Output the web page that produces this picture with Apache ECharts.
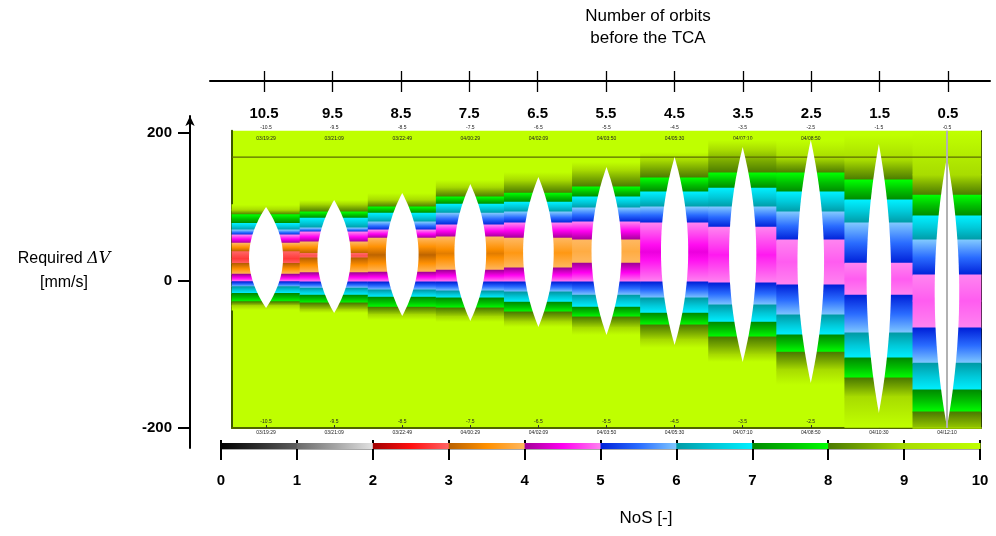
<!DOCTYPE html>
<html>
<head>
<meta charset="utf-8">
<script src="https://cdn.jsdelivr.net/npm/echarts@6/dist/echarts.min.js"></script>
<style>
  html, body { margin: 0; padding: 0; background: #fff; }
  #chart { width: 996px; height: 536px; }
</style>
</head>
<body>
<div id="chart"></div>
<script>
// columns: number of orbits before the TCA
var orbits = [10.5, 9.5, 8.5, 7.5, 6.5, 5.5, 4.5, 3.5, 2.5, 1.5, 0.5];
var passTimes = ['03/19:29', '03/21:09', '03/22:49', '04/00:29', '04/02:09', '04/03:50',
                 '04/05:30', '04/07:10', '04/08:50', '04/10:30', '04/12:10'];
var dvTicks = [-200, 0, 200];
var nosTicks = [0, 1, 2, 3, 4, 5, 6, 7, 8, 9, 10];

// lowest NoS in each column and the required dV where it sits
var minNoS = [2.75, 2.9, 3.05, 3.3, 3.6, 3.85, 4.4, 4.6, 4.85, 4.85, 4.85];
var centreDV = [29.5, 33.6, 34.6, 36.6, 37.3, 39.3, 38.6, 34.6, 25.1, 2, -27.8];

// dV where NoS crosses 10, 9, 8, ... going down towards the minimum
var upperEdges = [
  [102.7, 95.6, 89.2, 77.6, 68.5, 61.7, 50.8, 39.1],
  [109.2, 103.7, 92.9, 84.7, 71.2, 65.8, 52.2, 36.6],
  [118.6, 109.2, 99.7, 91.5, 79.3, 68.5, 57.6],
  [136.3, 126.8, 113.2, 103.7, 91.5, 75.3, 59],
  [147.1, 136.3, 118.6, 106.4, 92.9, 78, 57.6],
  [160.7, 149.8, 126.8, 113.2, 98.3, 79.3, 54.9],
  [174.2, 163.4, 139, 120, 99.7, 78],
  [190.5, 176.9, 145.8, 125.4, 99.7, 72.5],
  [190, 166.1, 145.8, 120, 92.9, 54.9],
  [197.3, 163.4, 136.3, 109.2, 78, 23.7],
  [201.4, 143.1, 115.9, 87.5, 54.9, 7.5]
];
// same crossings below the minimum (10, 9, 8, ... going up)
var lowerEdges = [
  [-40, -34.6, -28.7, -17.4, -8.4, -1.6, 8.5, 23.1],
  [-44.1, -40, -30.5, -19.7, -10.2, -2, 10.8, 30.5],
  [-53.6, -46.8, -36, -22.4, -12.9, -2, 11.5],
  [-56.3, -49.5, -37.3, -23.7, -14.2, -2, 14.2],
  [-63.1, -56.3, -42.7, -29.2, -15.6, -2, 17],
  [-73.9, -64.4, -49.5, -36, -19.7, -2, 23.7],
  [-91.5, -80.7, -60.3, -44.1, -23.7, -2],
  [-110.5, -101, -76.6, -56.3, -33.2, -3.4],
  [-141.7, -121.4, -97, -73.9, -46.8, -6.1],
  [-199, -158, -132.2, -105.1, -71.2, -19.7],
  [-230, -205, -178.3, -148.5, -111.9, -64.4]
];

// white lens in each column
var lensTop = [99.7, 109.2, 118.6, 130.8, 140.3, 153.9, 167.5, 181, 190.5, 185.1, 167.5];
var lensBottom = [-37.3, -44.1, -48.1, -54.9, -63.1, -73.9, -87.5, -110.5, -139, -179.7, -198.6];
var lensHalfWidth = [0.25, 0.245, 0.24, 0.233, 0.225, 0.22, 0.2, 0.2, 0.195, 0.18, 0.18];

var limitDV = 167.4;   // horizontal reference line
var tcaOrbit = 0.5;    // vertical grey line

// NoS colour scale, one colour run per unit step
var nosColours = [
  ['#000000', '#2e2e2e', '#5e5e5e'],
  ['#6a6a6a', '#a4a4a4', '#e2e2e2'],
  ['#a00000', '#ff1010', '#ff6464'],
  ['#b86000', '#ff9000', '#ffb860'],
  ['#a00096', '#ff00f0', '#ff84f0'],
  ['#0020d8', '#2a6cff', '#80c8ff'],
  ['#009aa5', '#00c8d8', '#00f0ff'],
  ['#008a00', '#00c000', '#00ff00'],
  ['#4a7a00', '#78a800', '#a8dc00'],
  ['#a8dc00', '#b4ee00', '#bfff00']
];

var DV_MIN = -200, DV_MAX = 203;

// build the bands of each column from the crossings
var bandData = [];
orbits.forEach(function (orb, i) {
  var up = upperEdges[i], lo = lowerEdges[i], n = up.length;
  var j;
  for (j = 0; j < n - 1; j++) bandData.push([orb, up[j], up[j + 1], 10 - j, 9 - j]);
  var inner = 10 - (n - 1);
  bandData.push([orb, up[n - 1], centreDV[i], inner, minNoS[i]]);
  bandData.push([orb, centreDV[i], lo[n - 1], minNoS[i], inner]);
  for (j = n - 1; j > 0; j--) bandData.push([orb, lo[j], lo[j - 1], 10 - j, 11 - j]);
});

var lensData = orbits.map(function (orb, i) {
  return [orb, lensTop[i], lensBottom[i], lensHalfWidth[i]];
});

function clampDV(v) { return Math.max(DV_MIN, Math.min(DV_MAX, v)); }

function renderBand(params, api) {
  var orb = api.value(0), d0 = api.value(1), d1 = api.value(2);
  var v0 = api.value(3), v1 = api.value(4);
  var g0 = api.coord([orb, d0]), g1 = api.coord([orb, d1]);
  var a = api.coord([orb + 0.5, clampDV(d0)]);
  var b = api.coord([orb - 0.5, clampDV(d1)]);
  var seg = Math.min(9, Math.floor(Math.min(v0, v1) + 1e-9));
  var stops = [];
  for (var t = 0; t <= 4; t++) {
    var v = v0 + (v1 - v0) * t / 4;
    var f = Math.max(0, Math.min(1, v - seg));
    stops.push({ offset: t / 4, color: echarts.color.lerp(f, nosColours[seg]) });
  }
  return {
    type: 'rect',
    shape: {
      x: Math.min(a[0], b[0]) - 0.4,
      y: Math.min(a[1], b[1]) - 0.4,
      width: Math.abs(b[0] - a[0]) + 0.8,
      height: Math.abs(b[1] - a[1]) + 0.8
    },
    style: { fill: new echarts.graphic.LinearGradient(0, g0[1], 0, g1[1], stops, true) }
  };
}

function renderLens(params, api) {
  var orb = api.value(0), top = api.value(1), bot = api.value(2), hw = api.value(3);
  var mid = (top + bot) / 2, half = (top - bot) / 2;
  var right = [], left = [];
  for (var k = 0; k <= 40; k++) {
    var t = -1 + k / 20;
    var dv = mid + t * half, dx = hw * (1 - t * t);
    right.push(api.coord([orb - dx, dv]));
    left.unshift(api.coord([orb + dx, dv]));
  }
  return { type: 'polygon', shape: { points: right.concat(left) }, style: { fill: '#ffffff' } };
}

function renderHLine(params, api) {
  var p0 = api.coord([11, api.value(0)]), p1 = api.coord([0, api.value(0)]);
  return {
    type: 'line',
    shape: { x1: p0[0], y1: p0[1], x2: p1[0], y2: p1[1] },
    style: { stroke: '#5a6c00', lineWidth: 1.3 }
  };
}

function renderScale(params, api) {
  var k = api.value(0);
  var a = api.coord([k, 1]), b = api.coord([k + 1, 0]);
  var c = nosColours[k];
  return {
    type: 'rect',
    shape: { x: a[0], y: a[1], width: b[0] - a[0] + 0.5, height: b[1] - a[1] },
    style: {
      fill: new echarts.graphic.LinearGradient(0, 0, 1, 0, [
        { offset: 0, color: c[0] }, { offset: 0.5, color: c[1] }, { offset: 1, color: c[2] }
      ])
    }
  };
}

var chart = echarts.init(document.getElementById('chart'), null, { renderer: 'canvas' });

var option = {
  backgroundColor: '#ffffff',
  animation: false,
  graphic: [
    {
      type: 'text', x: 648, y: 5,
      style: { text: 'Number of orbits\nbefore the TCA', font: '17px "Liberation Sans"', fill: '#000',
               textAlign: 'center', lineHeight: 22 }
    },
    {
      type: 'text', x: 64, y: 247,
      style: {
        text: 'Required {i|ΔV}\n[mm/s]', font: '16px "Liberation Sans"', fill: '#000',
        textAlign: 'center', lineHeight: 24,
        rich: { i: { fontFamily: 'DejaVu Serif', fontStyle: 'italic', fontSize: 16 } }
      }
    },
    {
      type: 'text', x: 646, y: 510,
      style: { text: 'NoS [-]', font: '17px "Liberation Sans"', fill: '#000', textAlign: 'center' }
    }
  ],
  grid: [
    { left: 232, right: 15, top: 130.8, bottom: 108, show: true, backgroundColor: '#bfff00',
      borderWidth: 0, outerBoundsMode: 'none' },
    { left: 210, right: 6, top: 81, height: 1, outerBoundsMode: 'none' },
    { left: 190, width: 100, top: 116, bottom: 88, outerBoundsMode: 'none' },
    { left: 221, right: 16, top: 443, height: 6, outerBoundsMode: 'none' }
  ],
  xAxis: [
    { gridIndex: 0, type: 'value', min: 0, max: 11, inverse: true, position: 'bottom',
      axisLine: { show: true, onZero: false, lineStyle: { color: '#4f6400', width: 2 } },
      axisTick: { show: true, inside: true, length: 3, customValues: orbits, lineStyle: { color: '#333' } },
      axisLabel: { show: true, customValues: orbits, margin: 2, formatter: function (v) {
        return passTimes[orbits.indexOf(v)]; }, fontSize: 5, color: '#222', fontFamily: 'Liberation Sans' },
      splitLine: { show: false } },
    { gridIndex: 0, type: 'value', min: 0, max: 11, inverse: true, position: 'bottom',
      axisLine: { show: false }, axisTick: { show: false },
      axisLabel: { show: true, inside: true, margin: 4, customValues: orbits,
        formatter: function (v) { return '-' + v; }, fontSize: 5, color: '#222' },
      splitLine: { show: false } },
    { gridIndex: 0, type: 'value', min: 0, max: 11, inverse: true, position: 'top',
      axisLine: { show: false },
      axisTick: { show: true, inside: true, length: 3, customValues: orbits, lineStyle: { color: '#333' } },
      axisLabel: { show: true, margin: 1, customValues: orbits,
        formatter: function (v) { return '-' + v; }, fontSize: 5, color: '#222' },
      splitLine: { show: false } },
    { gridIndex: 0, type: 'value', min: 0, max: 11, inverse: true, position: 'top',
      axisLine: { show: false }, axisTick: { show: false },
      axisLabel: { show: true, inside: true, margin: 5, customValues: orbits,
        formatter: function (v) { return passTimes[orbits.indexOf(v)]; }, fontSize: 5, color: '#222' },
      splitLine: { show: false } },
    // number of orbits before the TCA: line with upward ticks ...
    { gridIndex: 1, type: 'value', min: -0.114, max: 11.29, inverse: true, position: 'top',
      axisLine: { show: true, onZero: false, lineStyle: { color: '#000', width: 2 } },
      axisTick: { show: true, length: 10, customValues: orbits, lineStyle: { color: '#000', width: 1.3 } },
      axisLabel: { show: false }, splitLine: { show: false } },
    // ... and downward ticks with the labels
    { gridIndex: 1, type: 'value', min: -0.114, max: 11.29, inverse: true, position: 'bottom',
      axisLine: { show: false },
      axisTick: { show: true, length: 10, customValues: orbits, lineStyle: { color: '#000', width: 1.3 } },
      axisLabel: { show: true, margin: 24, customValues: orbits,
        formatter: function (v) { return v.toFixed(1); }, fontSize: 15, fontWeight: 'bold', color: '#000',
        fontFamily: 'Liberation Sans' },
      splitLine: { show: false } },
    // NoS colour scale
    { gridIndex: 3, type: 'value', min: 0, max: 10, position: 'bottom',
      axisLine: { show: true, onZero: false, lineStyle: { color: '#8c8c8c', width: 1.5 } },
      axisTick: { show: true, length: 11, customValues: nosTicks, lineStyle: { color: '#000', width: 2 } },
      axisLabel: { show: true, margin: 24, customValues: nosTicks, fontSize: 15, fontWeight: 'bold',
        color: '#000', fontFamily: 'Liberation Sans' },
      splitLine: { show: false } },
    { gridIndex: 3, type: 'value', min: 0, max: 10, position: 'bottom',
      axisLine: { show: false },
      axisTick: { show: true, inside: true, length: 9, customValues: nosTicks, lineStyle: { color: '#000', width: 2 } },
      axisLabel: { show: false }, splitLine: { show: false } },
    // companion for the required dV axis grid
    { gridIndex: 2, type: 'value', min: 0, max: 1, show: false }
  ],
  yAxis: [
    { gridIndex: 0, type: 'value', min: DV_MIN, max: DV_MAX, position: 'left',
      axisLine: { show: true, onZero: false, lineStyle: { color: '#3c5800', width: 2 } },
      axisTick: { show: false }, axisLabel: { show: false }, splitLine: { show: false } },
    { gridIndex: 0, type: 'value', min: DV_MIN, max: DV_MAX, position: 'right',
      axisLine: { show: true, onZero: false, lineStyle: { color: '#000', width: 1 } },
      axisTick: { show: false }, axisLabel: { show: false }, splitLine: { show: false } },
    // required dV
    { gridIndex: 2, type: 'value', min: -227, max: 223, position: 'left',
      axisLine: { show: true, onZero: false, symbol: ['none', 'arrow'], symbolSize: [7, 10],
        lineStyle: { color: '#000', width: 2 } },
      axisTick: { show: true, length: 12, customValues: dvTicks, lineStyle: { color: '#000', width: 2 } },
      axisLabel: { show: true, margin: 18, customValues: dvTicks, fontSize: 15, fontWeight: 'bold',
        color: '#000', fontFamily: 'Liberation Sans' },
      splitLine: { show: false } },
    { gridIndex: 3, type: 'value', min: 0, max: 1, show: false },
    // companion for the orbit axis grid
    { gridIndex: 1, type: 'value', min: 0, max: 1, show: false }
  ],
  series: [
    { type: 'custom', name: 'NoS', xAxisIndex: 0, yAxisIndex: 0, z: 2,
      renderItem: renderBand, data: bandData, encode: { x: 0, y: [1, 2] }, silent: true },
    { type: 'custom', name: 'limit', xAxisIndex: 0, yAxisIndex: 0, z: 3,
      renderItem: renderHLine, data: [[limitDV]], encode: { y: 0 }, silent: true },
    { type: 'custom', name: 'lens', xAxisIndex: 0, yAxisIndex: 0, z: 4,
      renderItem: renderLens, data: lensData, encode: { x: 0, y: [1, 2] }, silent: true,
      markLine: { silent: true, symbol: 'none', label: { show: false },
        lineStyle: { color: '#b2b2b2', width: 2, type: 'solid' },
        data: [{ xAxis: tcaOrbit }] } },
    { type: 'custom', name: 'scale', xAxisIndex: 6, yAxisIndex: 3, z: 2,
      renderItem: renderScale, data: nosTicks.slice(0, 10).map(function (k) { return [k]; }),
      encode: { x: 0 }, silent: true }
  ]
};

chart.setOption(option);
</script>
</body>
</html>
